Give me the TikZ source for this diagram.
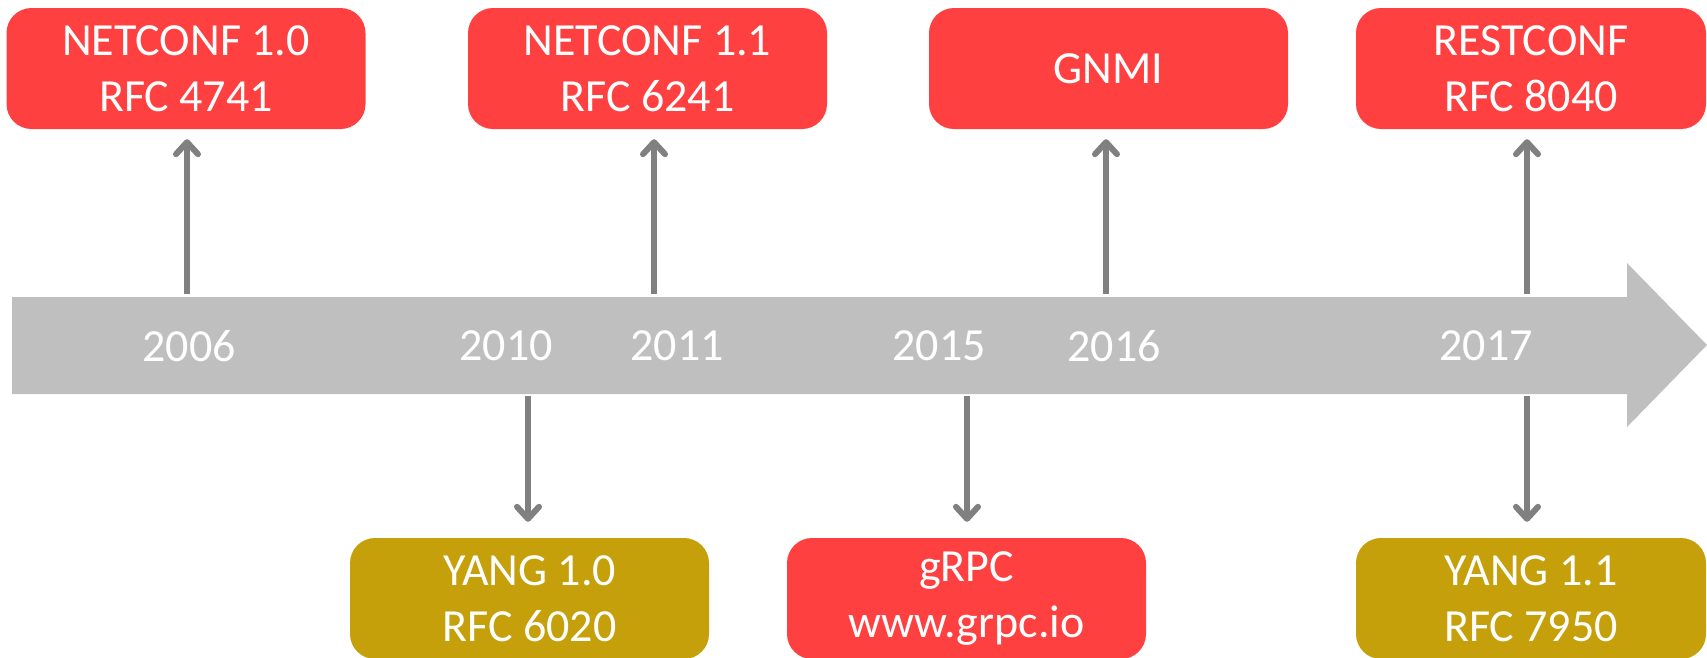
\documentclass[tikz,border=0pt]{standalone}
\usepackage{fontspec}
\setmainfont{Carlito}
\usetikzlibrary{arrows.meta}
\definecolor{boxred}{RGB}{255,64,64}
\definecolor{boxgold}{RGB}{197,160,10}
\definecolor{bandgray}{RGB}{191,191,191}
\definecolor{arrgray}{RGB}{128,128,128}
\begin{document}
\begin{tikzpicture}[x=1pt,y=-1pt,
  evt/.style={rectangle, rounded corners=25pt, minimum width=359pt, minimum height=121pt,
    inner sep=0pt, text=white, align=center, font=\fontsize{46}{56}\selectfont},
  redbox/.style={evt, fill=boxred},
  goldbox/.style={evt, fill=boxgold},
  yr/.style={text=white, inner sep=0pt, font=\fontsize{46}{54}\selectfont},
  link/.style={draw=arrgray, line width=6pt, -{Straight Barb[round,length=12pt,width=22pt]}}
]
\useasboundingbox (0,0) rectangle (1707,657);
% timeline band
\fill[bandgray] (12,297) -- (1627,297) -- (1627,263) -- (1707,345) -- (1627,427)
  -- (1627,394) -- (12,394) -- cycle;
% years
\node[yr] (y2006) at (189,346) {2006};
\node[yr] (y2010) at (506,346) {2010};
\node[yr] (y2011) at (677,346) {2011};
\node[yr] (y2015) at (939,346) {2015};
\node[yr] (y2016) at (1114,346) {2016};
\node[yr] (y2017) at (1486,346) {2017};
% boxes
\node[redbox] (nc10) at (186,68.5) {NETCONF 1.0\\RFC 4741};
\node[redbox] (nc11) at (647.5,68.5) {NETCONF 1.1\\RFC 6241};
\node[redbox] (gnmi) at (1108.5,68.5) {GNMI};
\node[redbox, minimum width=350pt] (rest) at (1531,68.5) {RESTCONF\\RFC 8040};
\node[goldbox] (yang10) at (529.5,598.5) {YANG 1.0\\RFC 6020};
\node[redbox] (grpc) at (966.5,598.5) {gRPC\\www.grpc.io};
\node[goldbox, minimum width=350pt] (yang11) at (1531,598.5) {YANG 1.1\\RFC 7950};
% arrow bases on the band
\coordinate (b2006) at (187,294);
\coordinate (b2011) at (654,294);
\coordinate (b2016) at (1106,294);
\coordinate (b2017u) at (1527,294);
\coordinate (b2010) at (528,396);
\coordinate (b2015) at (967,396);
\coordinate (b2017d) at (1527,396);
% connectors
\draw[link, shorten >=10pt] (b2006) -- (b2006 |- nc10.south);
\draw[link, shorten >=10pt] (b2011) -- (b2011 |- nc11.south);
\draw[link, shorten >=10pt] (b2016) -- (b2016 |- gnmi.south);
\draw[link, shorten >=10pt] (b2017u) -- (b2017u |- rest.south);
\draw[link, shorten >=16pt] (b2010) -- (b2010 |- yang10.north);
\draw[link, shorten >=16pt] (b2015) -- (b2015 |- grpc.north);
\draw[link, shorten >=16pt] (b2017d) -- (b2017d |- yang11.north);
\end{tikzpicture}
\end{document}
